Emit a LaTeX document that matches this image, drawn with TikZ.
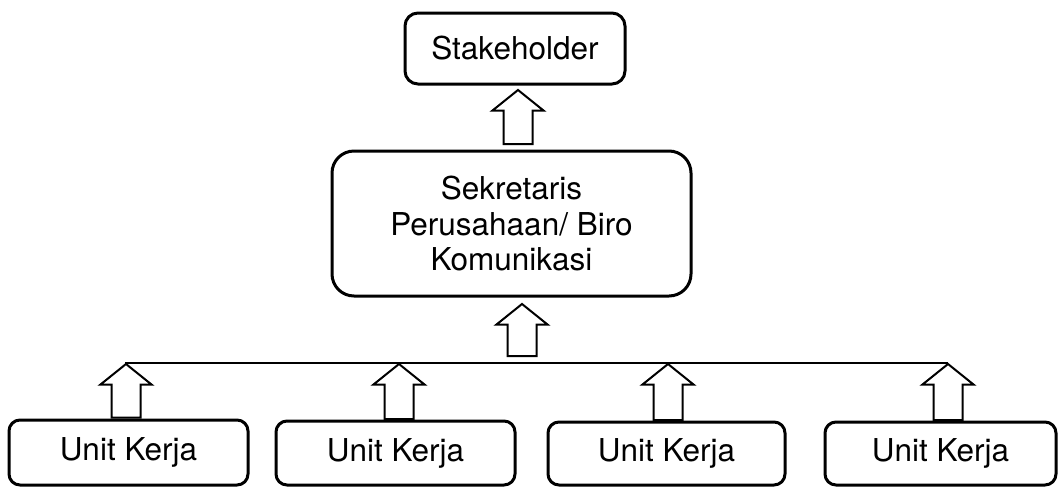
\documentclass[tikz,border=0pt]{standalone}
\usepackage{fontspec}
\setmainfont{TeX Gyre Heros}
\usetikzlibrary{calc}
\tikzset{
  boxnode/.style={draw=black, line width=3pt, inner sep=0pt, align=center,
    font=\fontsize{31.5}{35.5}\selectfont},
  arrowline/.style={draw=black, fill=white, line width=2pt, line join=miter},
  linkline/.style={draw=black, line width=2pt},
}
\newcommand\blockarrow[2]{% #1 = bottom coordinate, #2 = tip coordinate
  \draw[arrowline] ($(#1)+(-14.5,0)$) -- ($(#2)+(-14.5,20.5)$) -- ($(#2)+(-25.5,20.5)$)
    -- (#2) -- ($(#2)+(25.5,20.5)$) -- ($(#2)+(14.5,20.5)$) -- ($(#1)+(14.5,0)$) -- cycle;}
\begin{document}
\begin{tikzpicture}[x=1pt, y=-1pt]
  \fill[white] (0,0) rectangle (1059,488);
  \useasboundingbox (0,0) rectangle (1059,488);

  % boxes
  \node[boxnode, rounded corners=13pt, minimum width=220pt, minimum height=71pt] (stake) at (515,48.5) {Stakeholder};
  \node[boxnode, rounded corners=22pt, minimum width=359pt, minimum height=145pt] (sekr) at (511.5,223.5)
    {Sekretaris\\Perusahaan/ Biro\\Komunikasi};
  \node[boxnode, rounded corners=11pt, minimum width=239pt, minimum height=65pt] (u1) at (128.5,452.5) {Unit Kerja};
  \node[boxnode, rounded corners=11pt, minimum width=239pt, minimum height=64pt] (u2) at (395.5,453) {Unit Kerja};
  \node[boxnode, rounded corners=11pt, minimum width=237pt, minimum height=63pt] (u3) at (666.5,453.5) {Unit Kerja};
  \node[boxnode, rounded corners=11pt, minimum width=231pt, minimum height=63pt] (u4) at (940.5,453.5) {Unit Kerja};

  % collecting line
  \coordinate (j1) at (125,363);
  \coordinate (j4) at (948,363);
  \draw[linkline] (j1) -- (j4);

  % arrow coordinates
  \coordinate (a1b) at (518,144);  \coordinate (a1t) at (518,90);
  \coordinate (a2b) at (522,356);  \coordinate (a2t) at (522,304);
  \coordinate (b1b) at ($(u1.north)+(-2.5,-1)$); \coordinate (b1t) at (126,364);
  \coordinate (b2b) at (399,419); \coordinate (b2t) at (399,364);
  \coordinate (b3b) at (668,420); \coordinate (b3t) at (668,364);
  \coordinate (b4b) at (948,420); \coordinate (b4t) at (948,364);

  \blockarrow{a1b}{a1t}
  \blockarrow{a2b}{a2t}
  \blockarrow{b1b}{b1t}
  \blockarrow{b2b}{b2t}
  \blockarrow{b3b}{b3t}
  \blockarrow{b4b}{b4t}
\end{tikzpicture}
\end{document}
